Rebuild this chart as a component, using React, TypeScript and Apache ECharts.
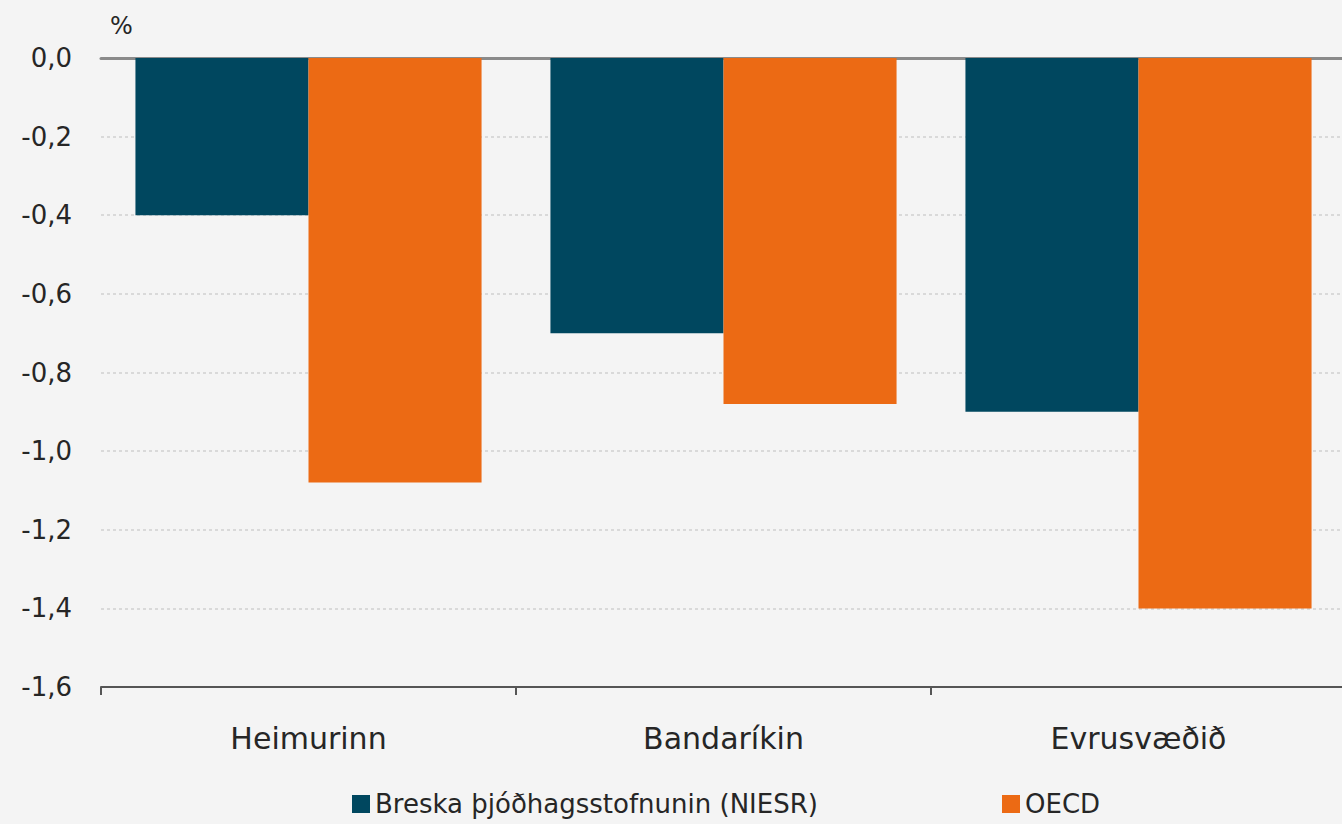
import React, { useEffect, useRef } from "react";
import * as echarts from "echarts";

const categories = ["Heimurinn", "Bandaríkin", "Evrusvæðið"];
const seriesNames = ["Breska þjóðhagsstofnunin (NIESR)", "OECD"];
const niesrValues = [-0.4, -0.7, -0.9];
const oecdValues = [-1.08, -0.88, -1.4];
const yMin = -1.6;
const yMax = 0;
const yInterval = 0.2;

const FONT = "DejaVu Sans";

export default function App() {
  const ref = useRef<HTMLDivElement>(null);
  useEffect(() => {
    document.body.style.margin = "0";
    const chart = echarts.init(ref.current!, null, { renderer: "svg" });
    chart.setOption({
      animation: false,
      backgroundColor: "#f4f4f4",
      textStyle: { fontFamily: FONT },
      grid: { left: 101, top: 58, width: 1245, height: 629 },
      graphic: [
        {
          type: "text",
          left: 110,
          top: 14,
          style: { text: "%", fontSize: 24, fill: "#262626", fontFamily: FONT },
        },
      ],
      legend: [
        {
          data: [seriesNames[0]],
          left: 347,
          top: 789,
          padding: [0, 5, 0, 5],
          icon: "rect",
          itemWidth: 18,
          itemHeight: 18,
          itemGap: 10,
          textStyle: { fontSize: 26, lineHeight: 30, color: "#262626", fontFamily: FONT },
        },
        {
          data: [seriesNames[1]],
          left: 997,
          top: 789,
          padding: [0, 5, 0, 5],
          icon: "rect",
          itemWidth: 18,
          itemHeight: 18,
          textStyle: { fontSize: 26, lineHeight: 30, color: "#262626", fontFamily: FONT },
        },
      ],
      xAxis: [
        {
          type: "category",
          data: categories,
          position: "bottom",
          axisLine: { onZero: false, lineStyle: { color: "#555555", width: 2 } },
          axisTick: { show: true, length: 8, lineStyle: { color: "#555555", width: 2 } },
          axisLabel: { fontSize: 30, color: "#262626", margin: 36, fontFamily: FONT },
          splitLine: { show: false },
        },
        {
          type: "category",
          data: categories,
          position: "top",
          axisLine: { onZero: false, lineStyle: { color: "#8a8a8a", width: 3 } },
          axisTick: { show: false },
          axisLabel: { show: false },
          splitLine: { show: false },
        },
      ],
      yAxis: {
        type: "value",
        min: yMin,
        max: yMax,
        interval: yInterval,
        axisLine: { show: false },
        axisTick: { show: false },
        axisLabel: {
          fontSize: 26,
          color: "#262626",
          margin: 29,
          fontFamily: FONT,
          formatter: (v: number) => {
            const r = Math.abs(v) < 1e-9 ? 0 : v;
            return r.toFixed(1).replace(".", ",");
          },
        },
        splitLine: { lineStyle: { color: "#cfcfcf", type: [3, 3], width: 1.5 } },
      },
      series: [
        {
          name: seriesNames[0],
          type: "bar",
          data: niesrValues,
          barGap: "0%",
          barCategoryGap: "16.6%",
          itemStyle: { color: "#00475f" },
        },
        {
          name: seriesNames[1],
          type: "bar",
          data: oecdValues,
          barGap: "0%",
          barCategoryGap: "16.6%",
          itemStyle: { color: "#ec6a14" },
        },
      ],
    });
    return () => chart.dispose();
  }, []);
  return (
    <div style={{ width: 1342, height: 824, overflow: "hidden", position: "relative" }}>
      <div ref={ref} style={{ width: 1352, height: 824 }} />
    </div>
  );
}
